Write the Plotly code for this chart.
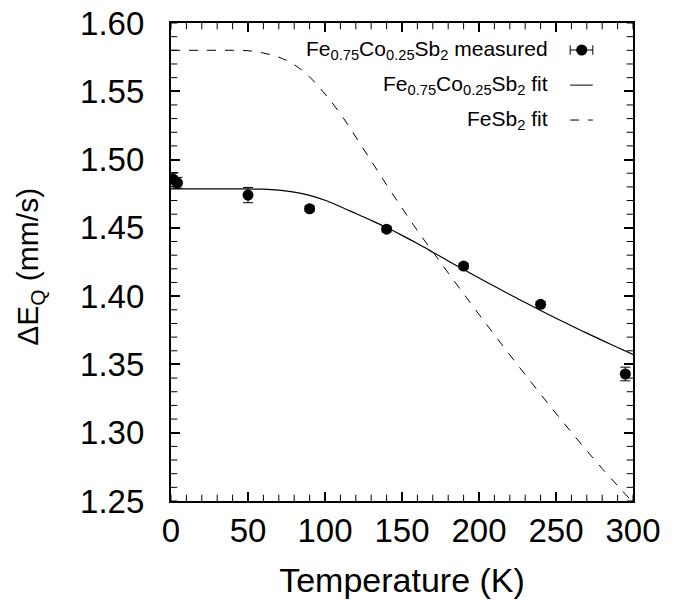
import plotly.graph_objects as go

# ---- data ----
meas_T = [1.5, 4.2, 50, 90, 140, 190, 240, 295]
meas_E = [1.4855, 1.4830, 1.4740, 1.4640, 1.4490, 1.4220, 1.3940, 1.3430]
meas_err = [0.005, 0.004, 0.0056, 0.002, 0.002, 0.002, 0.002, 0.005]

fit_T = [0, 20, 40, 60, 70, 80, 90, 100, 110, 120, 130, 140, 150, 160, 170,
         180, 190, 200, 210, 220, 230, 240, 250, 260, 270, 280, 290, 300]
fit_E = [1.4785, 1.4785, 1.4785, 1.4783, 1.4776, 1.4762, 1.4738, 1.4702, 1.4655,
         1.4605, 1.4555, 1.4502, 1.4445, 1.4385, 1.4322, 1.4258, 1.4195, 1.4133,
         1.4072, 1.4012, 1.3953, 1.3895, 1.3838, 1.3783, 1.3729, 1.3676, 1.3624, 1.3573]

fesb_T = [0, 20, 40, 50, 60, 70, 80, 90, 100, 110, 120, 130, 140, 150, 160, 170,
          180, 190, 200, 210, 220, 230, 240, 250, 260, 270, 280, 290, 300]
fesb_E = [1.5800, 1.5800, 1.5800, 1.5797, 1.5780, 1.5750, 1.5695, 1.5605, 1.5480,
          1.5335, 1.5165, 1.4990, 1.4815, 1.4645, 1.4480, 1.4325, 1.4170, 1.4017,
          1.3866, 1.3717, 1.3570, 1.3425, 1.3282, 1.3141, 1.3003, 1.2868, 1.2738,
          1.2612, 1.2490]

legend_labels = ["Fe<sub>0.75</sub>Co<sub>0.25</sub>Sb<sub>2</sub> measured",
                 "Fe<sub>0.75</sub>Co<sub>0.25</sub>Sb<sub>2</sub> fit",
                 "FeSb<sub>2</sub> fit"]

X_RANGE = [0, 300]
Y_RANGE = [1.25, 1.60]
x_minor = list(range(0, 301, 10))                      # minor tick values, K
y_minor = [round(1.25 + 0.01 * i, 2) for i in range(36)]  # minor tick values, mm/s

FONT = "Liberation Sans, Arial, Helvetica, sans-serif"

fig = go.Figure()
fig.add_trace(go.Scatter(x=fesb_T, y=fesb_E, mode="lines", line=dict(color="black", width=1, dash="dash"),
                         line_shape="spline", showlegend=False))
fig.add_trace(go.Scatter(x=fit_T, y=fit_E, mode="lines", line=dict(color="black", width=1.2),
                         line_shape="spline", showlegend=False))
fig.add_trace(go.Scatter(x=meas_T, y=meas_E, mode="markers",
                         marker=dict(color="black", size=11),
                         error_y=dict(type="data", array=meas_err, color="black", thickness=1, width=5),
                         showlegend=False))

# minor ticks (inside, on all four sides): half-clipped tick-shaped markers on the frame
for yv in Y_RANGE:
    fig.add_trace(go.Scatter(x=x_minor, y=[yv] * len(x_minor), mode="markers", cliponaxis=True,
                             marker=dict(symbol="line-ns-open", size=9, color="black",
                                         line=dict(color="black", width=1)),
                             showlegend=False, hoverinfo="skip"))
for xv in X_RANGE:
    fig.add_trace(go.Scatter(x=[xv] * len(y_minor), y=y_minor, mode="markers", cliponaxis=True,
                             marker=dict(symbol="line-ew-open", size=9, color="black",
                                         line=dict(color="black", width=1)),
                             showlegend=False, hoverinfo="skip"))

# manual legend (text right, sample at right)
rows_y = [0.9435, 0.870, 0.797]
tx = 0.820
sx0, sx1, sxm = 0.864, 0.913, 0.889
for lab, yy in zip(legend_labels, rows_y):
    fig.add_annotation(x=tx, y=yy, xref="paper", yref="paper", text=lab, showarrow=False,
                       xanchor="right", yanchor="middle", font=dict(size=21, family=FONT, color="black"))
y0 = rows_y[0]
fig.add_shape(type="line", xref="paper", yref="paper", x0=sx0, x1=sx1, y0=y0, y1=y0,
              line=dict(color="black", width=1))
for xx in (sx0, sx1):
    fig.add_shape(type="line", xref="paper", yref="paper", x0=xx, x1=xx, y0=y0 - 0.01, y1=y0 + 0.01,
                  line=dict(color="black", width=1))
fig.add_shape(type="circle", xref="paper", yref="paper", x0=sxm - 0.0119, x1=sxm + 0.0119,
              y0=y0 - 0.0115, y1=y0 + 0.0115, fillcolor="black", line=dict(color="black", width=0))
fig.add_shape(type="line", xref="paper", yref="paper", x0=sx0, x1=sx1, y0=rows_y[1], y1=rows_y[1],
              line=dict(color="black", width=1))
fig.add_shape(type="line", xref="paper", yref="paper", x0=sx0, x1=sx1, y0=rows_y[2], y1=rows_y[2],
              line=dict(color="black", width=1, dash="dash"))

# y-axis title placed as rotated annotation
fig.add_annotation(x=-0.305, y=0.49, xref="paper", yref="paper", text="ΔE<sub>Q</sub> (mm/s)",
                   textangle=-90, showarrow=False, xanchor="center", yanchor="middle",
                   font=dict(size=30, family=FONT, color="black"))

axis_common = dict(showline=True, linecolor="black", linewidth=1.5, mirror="ticks",
                   ticks="inside", ticklen=9, tickwidth=1.5, tickcolor="black",
                   showgrid=False, zeroline=False, ticklabeloverflow="allow",
                   tickfont=dict(size=33, family=FONT, color="black"))

fig.update_layout(
    xaxis=dict(range=X_RANGE, dtick=50, tick0=0,
               title=dict(text="Temperature (K)", font=dict(size=34, family=FONT, color="black"), standoff=20),
               **axis_common),
    yaxis=dict(range=Y_RANGE, dtick=0.05, tick0=1.25, tickformat=".2f",
               ticksuffix="\u00a0\u00a0", **axis_common),
)

fig.update_layout(width=676, height=605, margin=dict(l=171, r=43, t=23, b=104, autoexpand=False),
                  paper_bgcolor="white", plot_bgcolor="white", showlegend=False,
                  font=dict(family=FONT, color="black"))

fig.write_html("out.html", config={"displayModeBar": False},
               post_script="document.body.style.margin='0';")
